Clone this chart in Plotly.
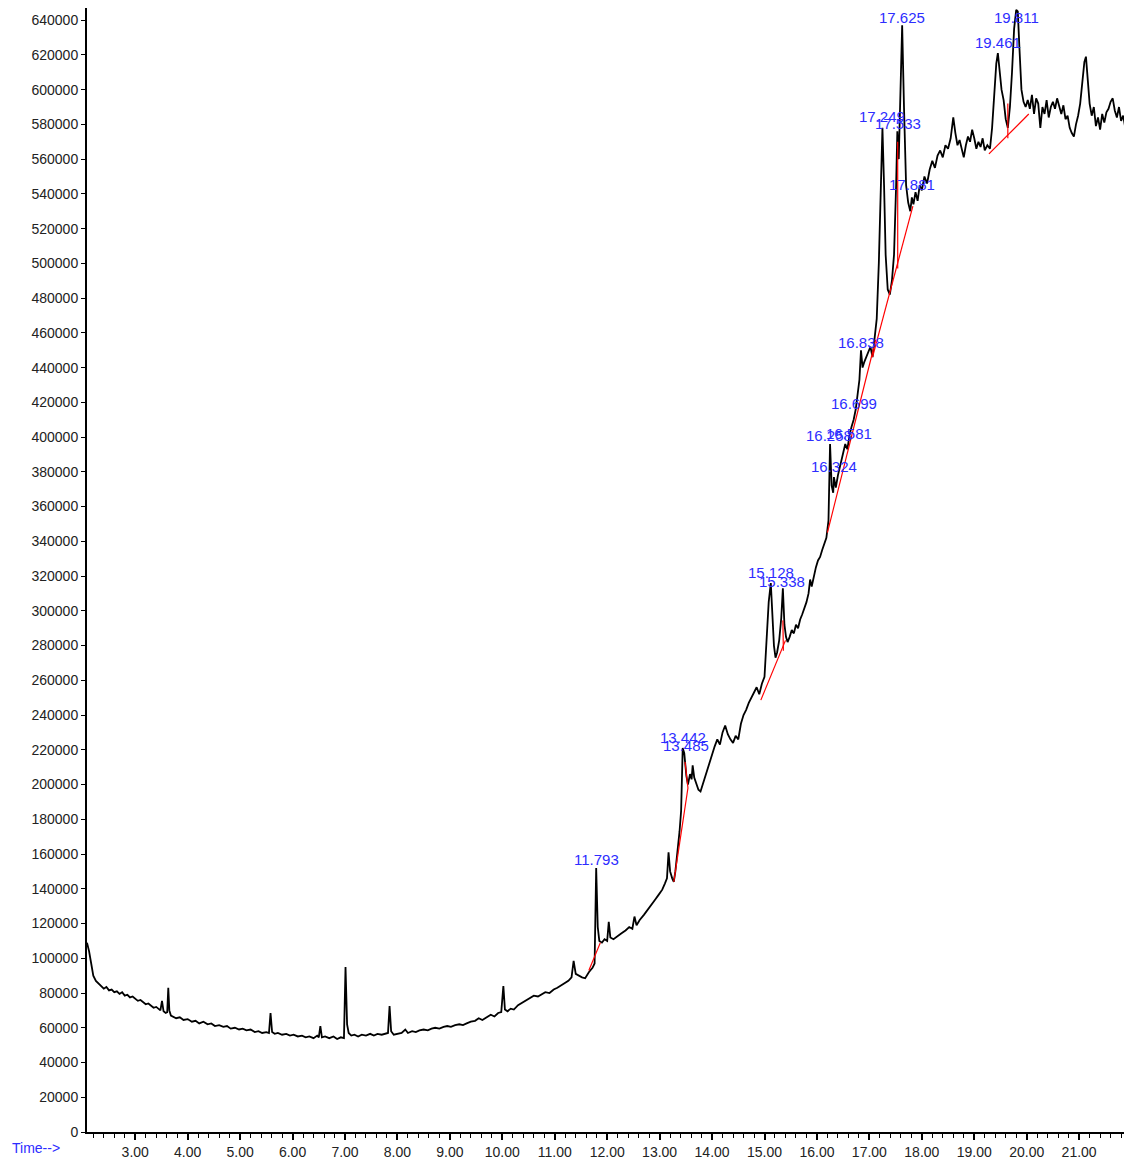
import plotly.graph_objects as go

# ---- chromatogram trace (time in min, abundance) ----
time = [2.08, 2.12, 2.16, 2.20, 2.25, 2.30, 2.35, 2.40, 2.45, 2.50, 2.55, 2.60, 2.65, 2.70, 2.75, 2.80, 2.85, 2.90, 2.95, 3.00,
        3.05, 3.10, 3.15, 3.20, 3.25, 3.30, 3.35, 3.40, 3.45, 3.48, 3.51, 3.54, 3.58, 3.61, 3.63, 3.65, 3.68, 3.72, 3.78, 3.85,
        3.92, 4.00, 4.08, 4.15, 4.22, 4.30, 4.38, 4.45, 4.52, 4.60, 4.68, 4.75, 4.82, 4.90, 4.98, 5.05, 5.12, 5.20, 5.28, 5.35,
        5.42, 5.50, 5.55, 5.58, 5.61, 5.66, 5.72, 5.80, 5.88, 5.95, 6.02, 6.10, 6.18, 6.25, 6.32, 6.40, 6.47, 6.50, 6.53, 6.56,
        6.62, 6.70, 6.78, 6.85, 6.92, 6.98, 7.01, 7.04, 7.07, 7.12, 7.18, 7.25, 7.32, 7.40, 7.48, 7.55, 7.62, 7.70, 7.78, 7.82,
        7.85, 7.88, 7.93, 8.00, 8.08, 8.15, 8.20, 8.28, 8.35, 8.42, 8.50, 8.58, 8.65, 8.72, 8.80, 8.88, 8.95, 9.02, 9.10, 9.18,
        9.25, 9.32, 9.40, 9.48, 9.55, 9.62, 9.70, 9.78, 9.85, 9.92, 9.98, 10.02, 10.05, 10.10, 10.16, 10.22, 10.30, 10.38, 10.45, 10.52,
        10.60, 10.68, 10.75, 10.82, 10.90, 10.98, 11.05, 11.12, 11.20, 11.26, 11.32, 11.36, 11.40, 11.45, 11.52, 11.58, 11.65, 11.72, 11.76, 11.79,
        11.82, 11.85, 11.90, 11.95, 12.00, 12.03, 12.06, 12.12, 12.20, 12.28, 12.35, 12.42, 12.48, 12.52, 12.56, 12.62, 12.70, 12.78, 12.85, 12.92,
        12.98, 13.05, 13.10, 13.14, 13.17, 13.20, 13.24, 13.27, 13.30, 13.34, 13.38, 13.41, 13.44, 13.47, 13.485, 13.51, 13.54, 13.58, 13.61, 13.63,
        13.66, 13.70, 13.74, 13.78, 13.82, 13.86, 13.90, 13.95, 14.00, 14.05, 14.10, 14.15, 14.20, 14.25, 14.30, 14.35, 14.40, 14.45, 14.50, 14.55,
        14.60, 14.65, 14.70, 14.75, 14.80, 14.85, 14.90, 14.95, 15.00, 15.04, 15.08, 15.12, 15.15, 15.18, 15.21, 15.24, 15.28, 15.32, 15.35, 15.38,
        15.41, 15.44, 15.48, 15.52, 15.56, 15.60, 15.64, 15.68, 15.72, 15.76, 15.80, 15.84, 15.87, 15.90, 15.94, 15.98, 16.02, 16.06, 16.10, 16.14,
        16.18, 16.22, 16.25, 16.28, 16.31, 16.324, 16.36, 16.40, 16.44, 16.48, 16.51, 16.54, 16.58, 16.62, 16.66, 16.70, 16.74, 16.78, 16.81, 16.84,
        16.87, 16.90, 16.94, 16.98, 17.02, 17.06, 17.10, 17.14, 17.18, 17.22, 17.249, 17.28, 17.31, 17.35, 17.39, 17.43, 17.47, 17.51, 17.533, 17.56,
        17.59, 17.625, 17.66, 17.70, 17.74, 17.78, 17.81, 17.84, 17.88, 17.92, 17.96, 18.00, 18.05, 18.10, 18.15, 18.20, 18.25, 18.30, 18.35, 18.40,
        18.45, 18.50, 18.55, 18.60, 18.64, 18.68, 18.72, 18.76, 18.80, 18.84, 18.88, 18.92, 18.96, 19.00, 19.04, 19.08, 19.12, 19.16, 19.20, 19.25,
        19.30, 19.34, 19.38, 19.42, 19.45, 19.48, 19.52, 19.56, 19.60, 19.64, 19.68, 19.72, 19.76, 19.80, 19.83, 19.86, 19.90, 19.94, 19.98, 20.02,
        20.06, 20.10, 20.14, 20.18, 20.22, 20.26, 20.30, 20.34, 20.38, 20.42, 20.46, 20.50, 20.54, 20.58, 20.62, 20.66, 20.70, 20.74, 20.78, 20.82,
        20.86, 20.90, 20.94, 20.98, 21.02, 21.06, 21.10, 21.13, 21.16, 21.20, 21.24, 21.28, 21.32, 21.36, 21.40, 21.44, 21.48, 21.52, 21.56, 21.60,
        21.64, 21.68, 21.72, 21.76, 21.80, 21.84, 21.88, 21.92, 21.96]

abundance = [109000, 104000, 97000, 90000, 87000, 85500, 84000, 82500, 83500, 81500, 82000, 80500, 81000, 79500, 80500, 78500, 79000, 77500, 78000, 76500,
             75500, 76000, 74500, 73500, 74000, 72500, 71500, 72000, 70500, 70000, 75500, 69500, 68500, 69000, 83000, 70000, 67000, 66500, 65500, 66000,
             64500, 65000, 63500, 64000, 62500, 63500, 62000, 62500, 61000, 61500, 60500, 61000, 59500, 60000, 59000, 59500, 58500, 59000, 57500, 58000,
             57000, 57500, 57000, 68500, 57500, 56500, 57000, 56000, 56500, 55500, 56000, 55000, 55500, 54500, 55000, 54000, 55500, 54500, 61000, 54500,
             55000, 54000, 55000, 53500, 54500, 54000, 95000, 62000, 57000, 55500, 56000, 55000, 56000, 55500, 56500, 55500, 56500, 56000, 56500, 57000,
             72500, 58000, 56000, 56500, 57000, 59000, 57000, 58000, 57500, 58500, 59000, 58500, 59500, 60000, 59500, 60500, 61000, 60500, 61500, 62000,
             61500, 62500, 63500, 64000, 65500, 64500, 66000, 67500, 66500, 68500, 69000, 84000, 70500, 69500, 71000, 70500, 73000, 74500, 76000, 77000,
             78500, 78000, 79500, 80500, 80000, 82000, 83000, 84500, 86000, 87000, 89000, 98500, 91000, 90000, 89000, 88500, 92000, 94500, 97000, 152000,
             118000, 110000, 109000, 111000, 110000, 121000, 112000, 111000, 113000, 114500, 116000, 118000, 117000, 124000, 119000, 122000, 125000, 128500, 131000, 134000,
             136500, 139500, 143000, 146000, 161000, 150000, 146000, 144000, 150000, 160000, 173000, 185000, 221000, 218000, 213000, 205000, 200000, 206000, 203000, 211000,
             204000, 200000, 197000, 196000, 200000, 203000, 208000, 213000, 218000, 222000, 226000, 223000, 230000, 234000, 229000, 226000, 224000, 228000, 226000, 235000,
             240000, 243000, 247000, 250000, 253000, 256000, 252000, 258000, 262000, 285000, 305000, 316000, 300000, 280000, 273000, 276000, 283000, 296000, 313000, 292000,
             285000, 282000, 285000, 289000, 287000, 292000, 290000, 295000, 298000, 301000, 305000, 310000, 318000, 314000, 320000, 325000, 329000, 331000, 335000, 338000,
             342000, 352000, 396000, 372000, 368000, 377000, 371000, 378000, 383000, 388000, 391000, 396000, 393000, 401000, 406000, 410000, 416000, 425000, 433000, 450000,
             440000, 443000, 446000, 449000, 452000, 446000, 458000, 468000, 500000, 550000, 578000, 545000, 505000, 485000, 482000, 490000, 505000, 545000, 576000, 560000,
             590000, 637000, 590000, 545000, 535000, 530000, 538000, 534000, 541000, 536000, 545000, 542000, 550000, 546000, 554000, 559000, 555000, 562000, 565000, 561000,
             568000, 566000, 572000, 584000, 575000, 568000, 571000, 565000, 561000, 568000, 573000, 570000, 577000, 572000, 566000, 570000, 567000, 572000, 565000, 568000,
             566000, 578000, 600000, 615000, 621000, 612000, 600000, 594000, 583000, 578000, 590000, 610000, 635000, 646000, 645000, 625000, 600000, 593000, 590000, 594000,
             589000, 597000, 586000, 595000, 592000, 578000, 590000, 586000, 594000, 584000, 590000, 593000, 589000, 595000, 590000, 586000, 591000, 583000, 585000, 578000,
             575000, 573000, 580000, 585000, 592000, 605000, 616000, 619000, 608000, 592000, 585000, 590000, 579000, 584000, 577000, 586000, 581000, 587000, 589000, 593000,
             595000, 588000, 584000, 590000, 582000, 585000, 578000, 582000, 577000]

# ---- integration baselines (red) : pairs of points ----
base_t0 = [11.65, 13.27, 13.485, 14.93, 15.35, 16.20, 17.06, 17.54, 19.28, 19.64]
base_y0 = [93000, 144000, 213000, 248600, 294500, 345000, 446000, 570000, 563000, 592000]
base_t1 = [11.87, 13.54, 13.54, 15.40, 15.36, 17.12, 17.83, 17.54, 20.04, 19.64]
base_y1 = [109000, 198000, 198000, 283000, 277000, 456000, 533000, 497000, 586000, 572000]

# ---- peak labels ----
label_text = ["11.793", "13.442", "13.485", "15.128", "15.338", "16.258", "16.581", "16.324",
              "16.699", "16.838", "17.249", "17.533", "17.625", "17.881", "19.461", "19.811"]
label_t = [11.80, 13.44, 13.50, 15.12, 15.33, 16.23, 16.61, 16.32,
           16.70, 16.84, 17.24, 17.54, 17.62, 17.81, 19.45, 19.81]
label_y = [157100, 227300, 222700, 322300, 317100, 401100, 402300, 383300,
           419500, 454600, 584700, 580700, 641700, 545600, 627300, 641700]

x_ticks = [3, 4, 5, 6, 7, 8, 9, 10, 11, 12, 13, 14, 15, 16, 17, 18, 19, 20, 21]

FONT = "Arial, Liberation Sans, sans-serif"
BLUE = "rgb(45,45,255)"

fig = go.Figure()
fig.add_trace(go.Scatter(x=time, y=abundance, mode="lines",
                         line=dict(color="black", width=1.8), showlegend=False,
                         hoverinfo="skip"))
for a, b, c, d in zip(base_t0, base_y0, base_t1, base_y1):
    fig.add_trace(go.Scatter(x=[a, c], y=[b, d], mode="lines",
                             line=dict(color="red", width=1.2), showlegend=False,
                             hoverinfo="skip"))

for txt, t, y in zip(label_text, label_t, label_y):
    fig.add_annotation(x=t, y=y, text=txt, showarrow=False,
                       font=dict(family=FONT, size=15, color=BLUE),
                       xanchor="center", yanchor="middle")

fig.add_annotation(xref="paper", yref="paper", x=-0.0738, y=-0.0142,
                   text="Time-->", showarrow=False, xanchor="left", yanchor="middle",
                   font=dict(family=FONT, size=14, color=BLUE))

fig.update_layout(
    width=1124, height=1152,
    margin=dict(l=79, r=2, t=0, b=28),
    paper_bgcolor="white", plot_bgcolor="white",
    font=dict(family=FONT, size=14, color="#222"),
    xaxis=dict(range=[2.08, 21.97], tickvals=x_ticks,
               ticktext=[f"{v:.2f}" for v in x_ticks],
               showgrid=False, zeroline=False, showline=True,
               linecolor="black", linewidth=2, ticks="outside", ticklen=6,
               tickwidth=1.5, tickcolor="black",
               minor=dict(dtick=0.2, tick0=0, ticks="outside", ticklen=4,
                          tickwidth=1.2, tickcolor="black", showgrid=False),
               tickfont=dict(family=FONT, size=14, color="#222")),
    yaxis=dict(range=[0, 647000], dtick=20000, tick0=0, tickformat="d",
               showgrid=False, zeroline=False, showline=True,
               linecolor="black", linewidth=2, ticks="outside", ticklen=4,
               tickwidth=1.2, tickcolor="black",
               tickfont=dict(family=FONT, size=14, color="#222")),
)

fig.write_html("out.html")
